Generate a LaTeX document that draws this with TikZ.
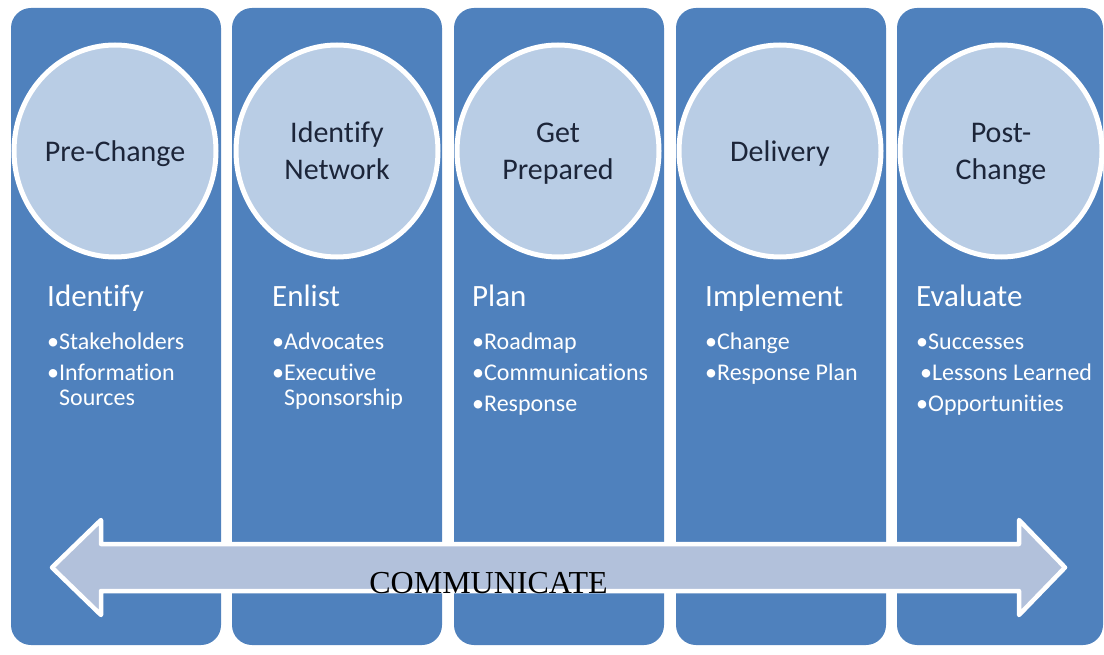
\documentclass[tikz,border=0pt]{standalone}
\usepackage{fontspec}
\setmainfont[Ligatures=NoCommon]{Carlito}
\newfontfamily\commfont{Liberation Serif}
\usetikzlibrary{calc}

\definecolor{colblue}{HTML}{4F81BD}
\definecolor{circfill}{HTML}{B9CDE5}
\definecolor{arrowfill}{HTML}{B2C1DB}
\definecolor{labelink}{HTML}{1C2539}

\tikzset{
	column/.style={fill=colblue, rounded corners=20pt},
	phase/.style={draw=white, line width=5pt, fill=circfill},
	phasetext/.style={text=labelink, inner sep=0pt, anchor=base, align=center, font=\fontsize{30}{37}\selectfont},
	heading/.style={text=white, inner sep=0pt, anchor=base west, font=\fontsize{31}{37}\selectfont},
	items/.style={text=white, inner sep=0pt, anchor=base west, align=left, font=\fontsize{24}{31}\selectfont},
	commarrow/.style={draw=white, line width=4.5pt, line join=round, fill=arrowfill},
}

\begin{document}
\begin{tikzpicture}[x=1pt, y=-1pt]
				\useasboundingbox (0,0) rectangle (1104,655);
				
				% columns
				\fill[column] (11,8) rectangle (221,645);
				\fill[column] (232,8) rectangle (442,645);
				\fill[column] (454,8) rectangle (664,645);
				\fill[column] (676,8) rectangle (886,645);
				\fill[column] (897,8) rectangle (1103,645);
				
				% phase circles
				\foreach \cx in {115,337,558,780,1001}
					\draw[phase] (\cx,151) ellipse [x radius=101, y radius=106];
				
				% (base of a two-line node = its last line)
				\node[phasetext] (prechange) at (115,162) {Pre-Change};
				\node[phasetext] (network) at (337,180) {Identify\\Network};
				\node[phasetext] (prepared) at (558,180) {Get\\Prepared};
				\node[phasetext] (delivery) at (780,162) {Delivery};
				\node[phasetext] (postchange) at (1001,180) {Post-\\Change};
				
				% headings
				\node[heading] (identify) at (47,307) {Identify};
				\node[heading] (enlist) at (272,307) {Enlist};
				\node[heading] (plan) at (472,307) {Plan};
				\node[heading] (implement) at (705,307) {Implement};
				\node[heading] (evaluate) at (916,307) {Evaluate};
				
				% bullet lists
				\node[items] (identifylist) at (47,405) {•Stakeholders\\•Information\\[-6pt]\phantom{•}Sources};
				\node[items] (enlistlist) at (272,405) {•Advocates\\•Executive\\[-6pt]\phantom{•}Sponsorship};
				\node[items] (planlist) at (472,411) {•Roadmap\\•Communications\\•Response};
				\node[items] (implementlist) at (705,380) {•Change\\•Response Plan};
				\node[items] (evaluatelist) at (916,411) {•Successes\\\hspace{4pt}•Lessons Learned\\•Opportunities};
				
				% communicate arrow
				\draw[commarrow] (52,567.5) -- (101,520) -- (101,544) -- (1019,544) -- (1019,520)
					-- (1065,567.5) -- (1019,615) -- (1019,591) -- (101,591) -- (101,615) -- cycle;
				\node[inner sep=0pt, anchor=base, font=\commfont\fontsize{32}{36}\selectfont] (communicate) at (488.5,593) {COMMUNICATE};
			\end{tikzpicture}
\end{document}
